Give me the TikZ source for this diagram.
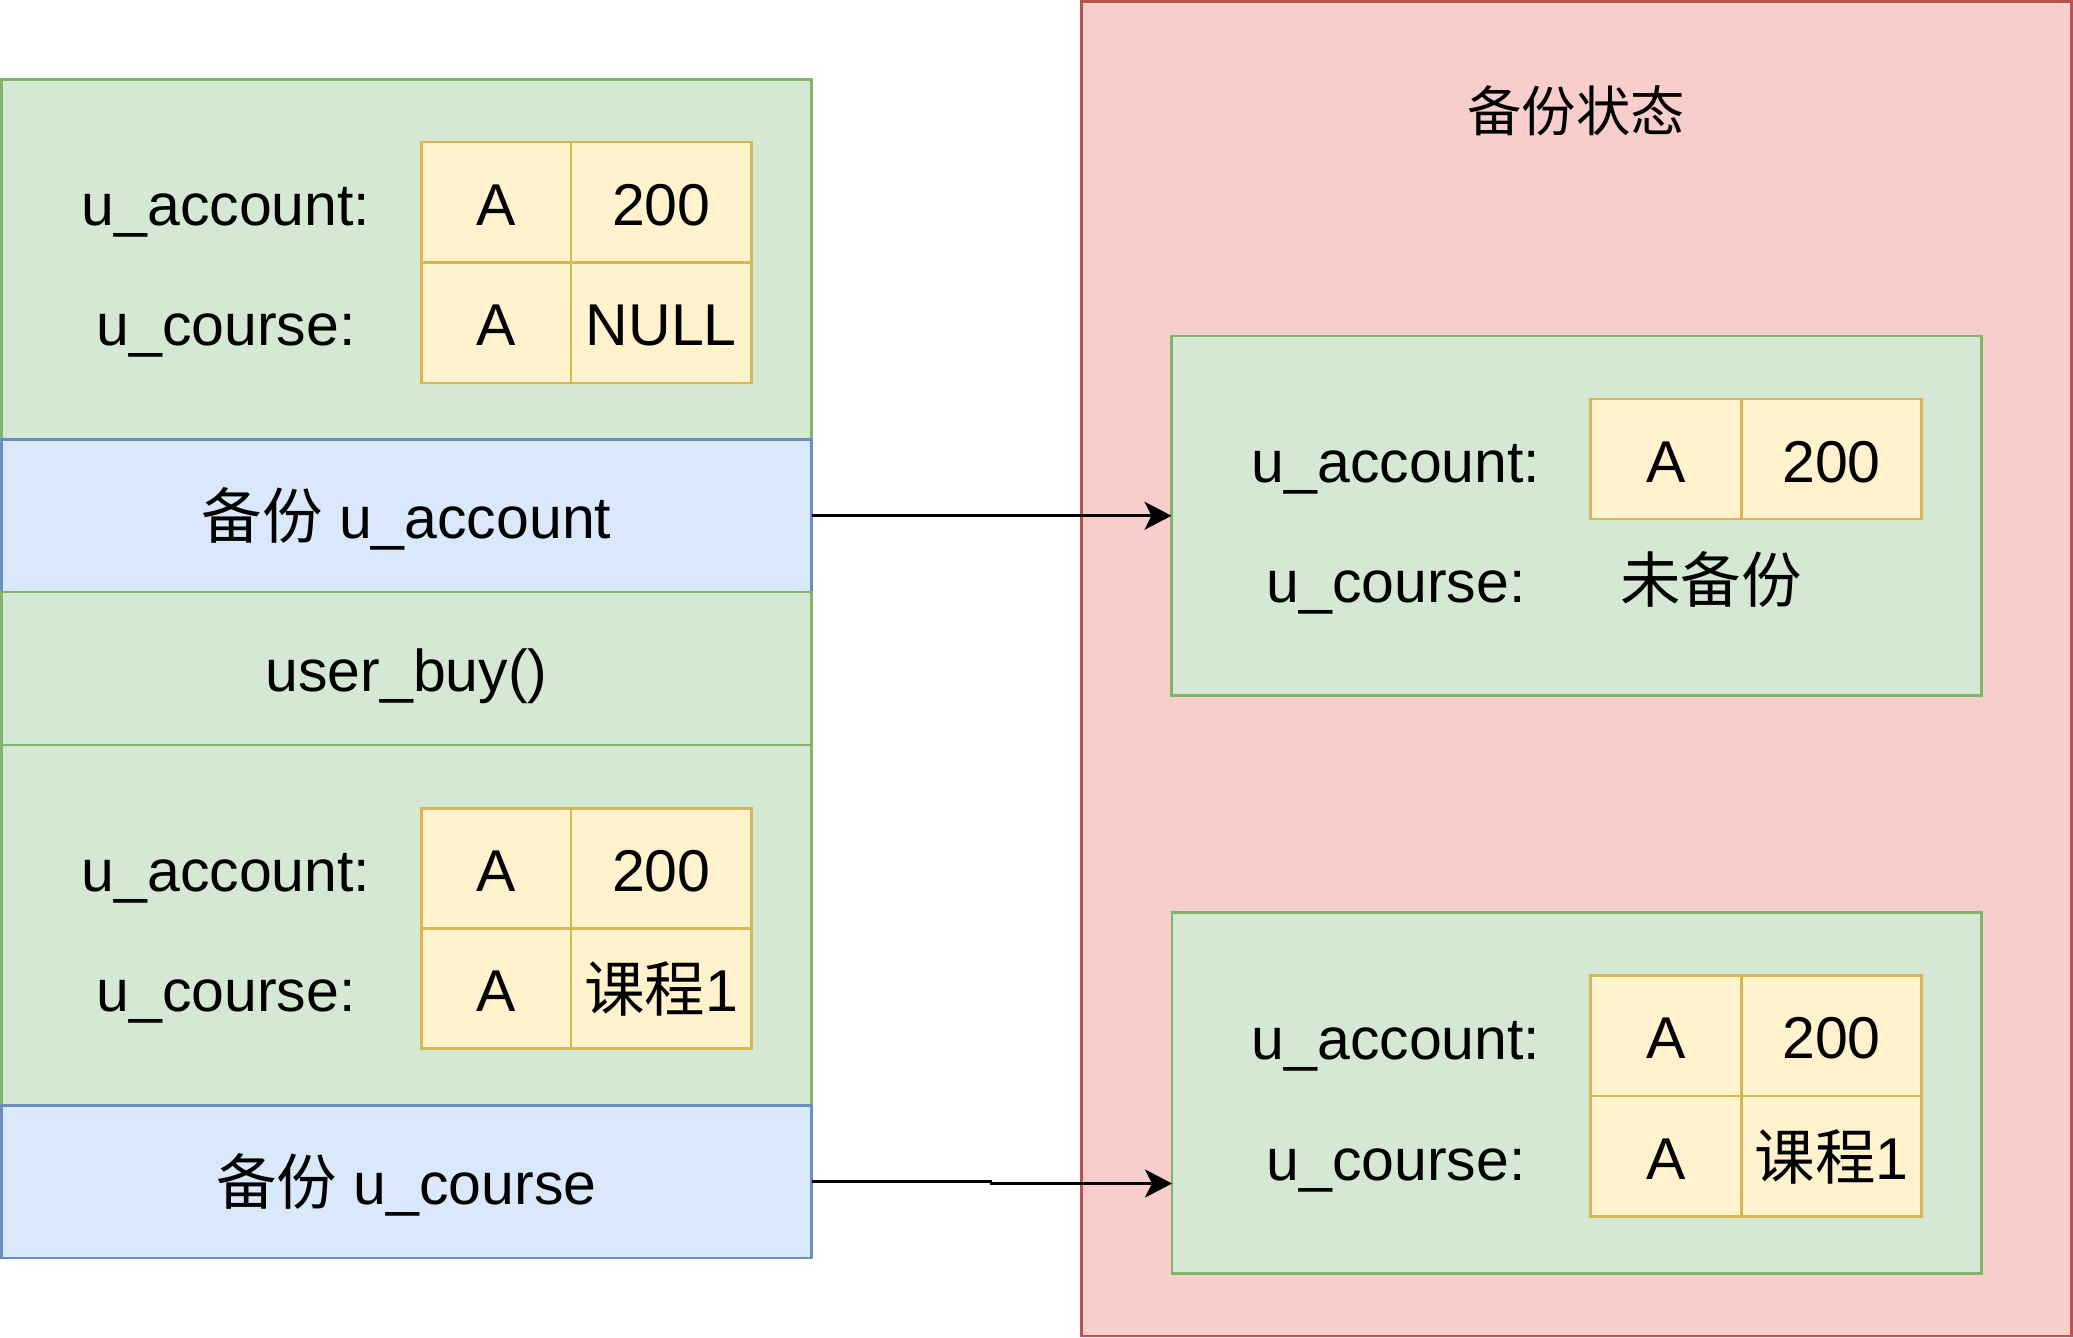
\documentclass[tikz,border=0pt]{standalone}
\usepackage{fontspec}
\setmainfont{Liberation Sans}
\newfontfamily\cjk[Scale=1.025]{Noto Sans CJK SC}
\usetikzlibrary{arrows.meta}
\definecolor{gfill}{HTML}{D5E8D4}\definecolor{gline}{HTML}{82B366}
\definecolor{bfill}{HTML}{DAE8FC}\definecolor{bline}{HTML}{6C8EBF}
\definecolor{rfill}{HTML}{F8CECC}\definecolor{rline}{HTML}{B85450}
\definecolor{yfill}{HTML}{FFF2CC}\definecolor{yline}{HTML}{D6B656}
\begin{document}
\begin{tikzpicture}[x=1pt,y=-1pt,
  every node/.style={inner sep=0pt,outer sep=0pt,font=\fontsize{59}{70}\selectfont,text height=46pt,text depth=0pt},
  gbox/.style={draw=gline,fill=gfill,line width=2.8pt,anchor=north west},
  bbox/.style={draw=bline,fill=bfill,line width=2.8pt,anchor=north west},
  rbox/.style={draw=rline,fill=rfill,line width=2.8pt,anchor=north west},
  ycell/.style={draw=yline,fill=yfill,line width=2.7pt,anchor=north west},
  arr/.style={line width=2.7pt,-{Stealth[length=27pt,width=28pt,inset=7pt]}}]
\useasboundingbox (0,0) rectangle (2073,1338);

% ---------- left column ----------
\node[gbox,minimum width=810pt,minimum height=360pt] (g1) at (1.5,79.5) {};
\node[ycell,minimum width=149.5pt,minimum height=120.5pt] (c1) at (421.5,142) {A};
\node[ycell,minimum width=180.5pt,minimum height=120.5pt] (c2) at (571,142) {200};
\node[ycell,minimum width=149.5pt,minimum height=120.5pt] (c3) at (421.5,262.5) {A};
\node[ycell,minimum width=180.5pt,minimum height=120.5pt] (c4) at (571,262.5) {NULL};
\node (l1) at (226,202) {u\_account:};
\node (l2) at (226,322.5) {u\_course:};

\node[bbox,minimum width=810pt,minimum height=152.5pt] (b1) at (1.5,439.5) {{\cjk 备份} u\_account};
\node[gbox,minimum width=810pt,minimum height=153pt] (ub) at (1.5,592) {user\_buy()};

\node[gbox,minimum width=810pt,minimum height=360.5pt] (g2) at (1.5,745) {};
\node[ycell,minimum width=149.5pt,minimum height=120.2pt] (d1) at (421.5,808.2) {A};
\node[ycell,minimum width=180.5pt,minimum height=120.2pt] (d2) at (571,808.2) {200};
\node[ycell,minimum width=149.5pt,minimum height=120.2pt] (d3) at (421.5,928.4) {A};
\node[ycell,minimum width=180.5pt,minimum height=120.2pt] (d4) at (571,928.4) {{\cjk 课程}1};
\node (l3) at (226,868.3) {u\_account:};
\node (l4) at (226,988.5) {u\_course:};

\node[bbox,minimum width=810pt,minimum height=152.5pt] (b2) at (1.5,1105.5) {{\cjk 备份} u\_course};

% ---------- right panel ----------
\node[rbox,minimum width=990pt,minimum height=1334.6pt] (R) at (1081.3,1.4) {};
\node[font=\fontsize{53}{60}\selectfont] (title) at (1576,108.5) {\cjk 备份状态};

\node[gbox,minimum width=809.8pt,minimum height=359.5pt] (rg1) at (1171.5,336) {};
\node[ycell,minimum width=150.6pt,minimum height=120pt] (e1) at (1590.7,399) {A};
\node[ycell,minimum width=180.4pt,minimum height=120pt] (e2) at (1741.3,399) {200};
\node (l5) at (1396,459) {u\_account:};
\node (l6) at (1396,579) {u\_course:};
\node (nb) at (1711,579) {\cjk 未备份};

\node[gbox,minimum width=809.3pt,minimum height=361pt] (rg2) at (1172,912.5) {};
\node[ycell,minimum width=150.6pt,minimum height=120.3pt] (f1) at (1590.7,975.7) {A};
\node[ycell,minimum width=180.4pt,minimum height=120.3pt] (f2) at (1741.3,975.7) {200};
\node[ycell,minimum width=150.6pt,minimum height=120.3pt] (f3) at (1590.7,1096) {A};
\node[ycell,minimum width=180.4pt,minimum height=120.3pt] (f4) at (1741.3,1096) {{\cjk 课程}1};
\node (l7) at (1396,1036.3) {u\_account:};
\node (l8) at (1396,1157) {u\_course:};

% ---------- connectors ----------
\draw[arr] (b1.east) -- (rg1.west);
\coordinate (j1) at (991,1181.75);
\coordinate (j2) at (991,1183.5);
\draw[arr] (b2.east) -- (j1) -- (j2) -- (rg2.west |- j2);
\end{tikzpicture}
\end{document}
